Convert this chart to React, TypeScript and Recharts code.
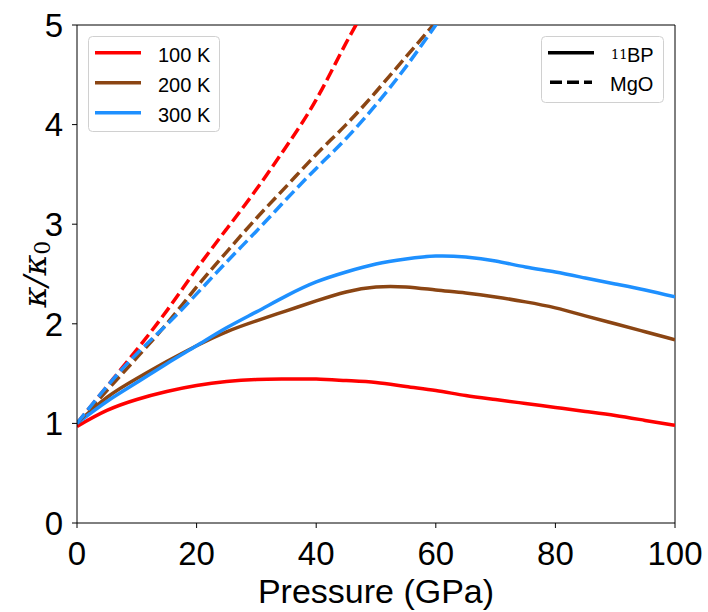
import { LineChart, Line, XAxis, YAxis, ReferenceLine, Label } from 'recharts';

// pressure grid (GPa) for the 11BP curves
const pressureBP = [0, 5, 10, 15, 20, 25, 30, 35, 40, 45, 50, 55, 60, 65, 70, 75, 80, 85, 90, 95, 100];
const bp100K = [0.97, 1.13, 1.24, 1.32, 1.38, 1.42, 1.44, 1.445, 1.445, 1.43, 1.41, 1.37, 1.33, 1.28, 1.24, 1.2, 1.16, 1.12, 1.08, 1.03, 0.98];
const bp200K = [1.0, 1.26, 1.45, 1.62, 1.78, 1.92, 2.03, 2.13, 2.23, 2.32, 2.37, 2.37, 2.34, 2.31, 2.27, 2.22, 2.16, 2.08, 2.0, 1.92, 1.84];
const bp300K = [1.0, 1.22, 1.41, 1.6, 1.78, 1.96, 2.12, 2.28, 2.42, 2.52, 2.6, 2.65, 2.68, 2.67, 2.63, 2.57, 2.52, 2.46, 2.4, 2.34, 2.27];

// MgO curves run off the top of the frame
const pressureMgO100 = [0, 5, 10, 15, 20, 25, 30, 35, 40, 45, 50];
const mgo100K = [1.0, 1.37, 1.74, 2.13, 2.55, 2.95, 3.35, 3.78, 4.25, 4.82, 5.35];
const pressureMgO = [0, 5, 10, 15, 20, 25, 30, 35, 40, 45, 50, 55, 60, 65];
const mgo200K = [1.0, 1.33, 1.66, 2.0, 2.37, 2.72, 3.06, 3.38, 3.7, 4.0, 4.33, 4.68, 5.03, 5.4];
const mgo300K = [1.0, 1.37, 1.7, 1.99, 2.3, 2.62, 2.93, 3.25, 3.56, 3.86, 4.2, 4.58, 5.0, 5.42];

const xTicks = [0, 20, 40, 60, 80, 100];
const yTicks = [0, 1, 2, 3, 4, 5];

const RED = '#ff0000';
const BROWN = '#8b4513';
const BLUE = '#1e90ff';
const DASH = '12 5';
const LW = 3.5;
const FONT = '"Liberation Sans", Arial, sans-serif';

const toPoints = (ps: number[], ks: number[]) => ps.map((p, i) => ({ p, k: ks[i] }));

const series = [
  { name: 'bp100', data: toPoints(pressureBP, bp100K), color: RED, dashed: false },
  { name: 'bp200', data: toPoints(pressureBP, bp200K), color: BROWN, dashed: false },
  { name: 'bp300', data: toPoints(pressureBP, bp300K), color: BLUE, dashed: false },
  { name: 'mgo100', data: toPoints(pressureMgO100, mgo100K), color: RED, dashed: true },
  { name: 'mgo200', data: toPoints(pressureMgO, mgo200K), color: BROWN, dashed: true },
  { name: 'mgo300', data: toPoints(pressureMgO, mgo300K), color: BLUE, dashed: true },
];

const tempLegend = [
  { label: '100 K', color: RED },
  { label: '200 K', color: BROWN },
  { label: '300 K', color: BLUE },
];

function YLabel(props: any) {
  const vb = props.viewBox || { x: 0, y: 25, width: 77, height: 498 };
  const cx = vb.x + 35;
  const cy = vb.y + vb.height / 2;
  return (
    <text
      x={cx}
      y={cy}
      transform={`rotate(-90 ${cx} ${cy})`}
      textAnchor="middle"
      dominantBaseline="central"
      fontFamily='"DejaVu Serif", "Liberation Serif", serif'
      fontSize={32}
      fill="#000"
    >
      <tspan fontStyle="italic">κ/κ</tspan>
      <tspan fontSize={22} dy={7}>0</tspan>
    </text>
  );
}

function XLabel(props: any) {
  const vb = props.viewBox || { x: 77, y: 523, width: 598, height: 89 };
  return (
    <text
      x={vb.x + vb.width / 2}
      y={603}
      textAnchor="middle"
      fontFamily={FONT}
      fontSize={34}
      fill="#000"
    >
      Pressure (GPa)
    </text>
  );
}

function Legends() {
  return (
    <svg width={708} height={612} style={{ position: 'absolute', left: 0, top: 0, pointerEvents: 'none' }}>
      <rect x={88.5} y={36.5} width={131} height={95} rx={4} fill="rgba(255,255,255,0.8)" stroke="#d0d0d0" />
      {tempLegend.map((t, i) => (
        <g key={t.label}>
          <line x1={95} x2={141} y1={52.7 + i * 30} y2={52.7 + i * 30} stroke={t.color} strokeWidth={LW} />
          <text x={158} y={61.7 + i * 30} fontFamily={FONT} fontSize={20} fill="#000">{t.label}</text>
        </g>
      ))}
      <rect x={541.5} y={36.5} width={122} height={66} rx={4} fill="rgba(255,255,255,0.8)" stroke="#d0d0d0" />
      <line x1={548} x2={594} y1={52.7} y2={52.7} stroke="#000" strokeWidth={LW} />
      <text x={611} y={59} fontFamily='"DejaVu Serif", "Liberation Serif", serif' fontSize={13} fill="#000">11</text>
      <text x={627} y={62} fontFamily={FONT} fontSize={20} fill="#000">BP</text>
      <line x1={550} x2={592} y1={82.3} y2={82.3} stroke="#000" strokeWidth={LW} strokeDasharray={DASH} />
      <text x={610} y={91} fontFamily={FONT} fontSize={20} fill="#000">MgO</text>
    </svg>
  );
}

export default function App() {
  return (
    <div style={{ position: 'absolute', left: 0, top: 0, width: 708, height: 612, background: '#fff' }}>
      <LineChart width={708} height={612} margin={{ top: 25, right: 33, left: 0, bottom: 0 }}>
        <XAxis
          dataKey="p"
          type="number"
          domain={[0, 100]}
          ticks={xTicks}
          allowDataOverflow
          height={89}
          tickSize={5}
          tickMargin={14}
          stroke="#000"
          tick={{ fill: '#000', fontSize: 33, fontFamily: FONT }}
          tickLine={{ stroke: '#000' }}
        >
          <Label content={<XLabel />} />
        </XAxis>
        <YAxis
          type="number"
          domain={[0, 5]}
          ticks={yTicks}
          allowDataOverflow
          width={77}
          tickSize={5}
          tickMargin={9}
          stroke="#000"
          tick={{ fill: '#000', fontSize: 33, fontFamily: FONT }}
          tickLine={{ stroke: '#000' }}
        >
          <Label content={<YLabel />} />
        </YAxis>
        <ReferenceLine y={5} stroke="#000" strokeWidth={1} />
        <ReferenceLine x={100} stroke="#000" strokeWidth={1} />
        {series.map((s) => (
          <Line
            key={s.name}
            data={s.data}
            dataKey="k"
            type="natural"
            stroke={s.color}
            strokeWidth={LW}
            strokeDasharray={s.dashed ? DASH : undefined}
            dot={false}
            activeDot={false}
            isAnimationActive={false}
          />
        ))}
      </LineChart>
      <Legends />
    </div>
  );
}
